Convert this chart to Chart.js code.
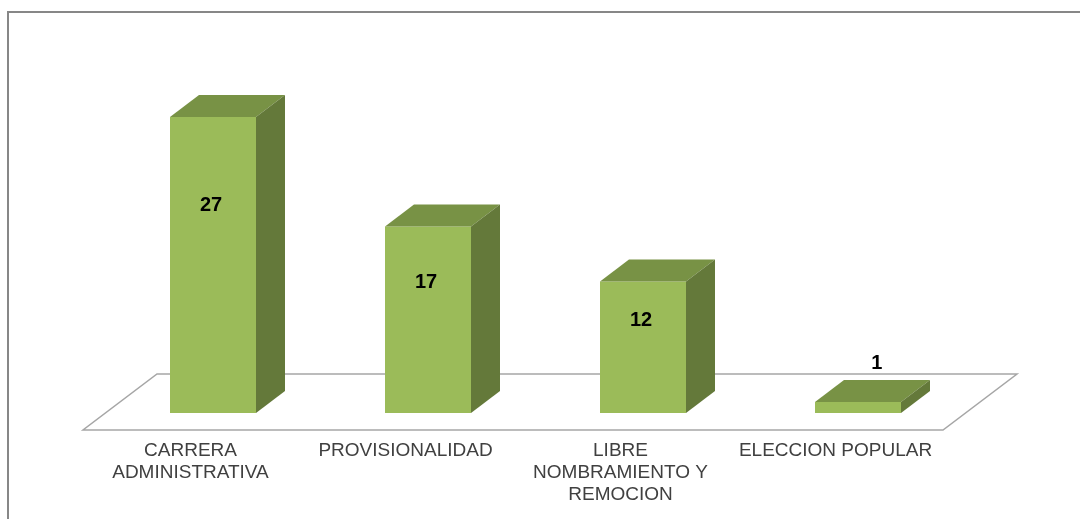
<!DOCTYPE html>
<html>
<head>
<meta charset="utf-8">
<script src="https://cdn.jsdelivr.net/npm/chart.js@4/dist/chart.umd.min.js"></script>
<style>
    body { margin: 0; background: #ffffff; }
</style>
</head>
<body>
<canvas id="myChart" width="1080" height="519"></canvas>
<script>
// Datos del gráfico
const categories = [
    ['CARRERA', 'ADMINISTRATIVA'],
    'PROVISIONALIDAD',
    ['LIBRE', 'NOMBRAMIENTO Y', 'REMOCION'],
    'ELECCION POPULAR'
];
const values = [27, 17, 12, 1];

// Colores de las caras 3D
const frontColor = '#9BBB59';
const topColor = '#789245';
const sideColor = '#64793A';

// Profundidad de las barras y del piso (px)
const depthX = 29, depthY = -22;

// Marco del gráfico (solo arriba e izquierda visibles)
const framePlugin = {
    id: 'frame',
    beforeDraw(chart) {
        const ctx = chart.ctx;
        ctx.save();
        ctx.fillStyle = '#ffffff';
        ctx.fillRect(0, 0, chart.width, chart.height);
        ctx.strokeStyle = '#878787';
        ctx.lineWidth = 2;
        ctx.beginPath();
        ctx.moveTo(8, chart.height + 2);
        ctx.lineTo(8, 12);
        ctx.lineTo(chart.width + 2, 12);
        ctx.stroke();
        ctx.restore();
    }
};

// Piso en perspectiva
const floorPlugin = {
    id: 'floor',
    beforeDatasetsDraw(chart) {
        const ctx = chart.ctx;
        const area = chart.chartArea;
        const y0 = chart.scales.y.getPixelForValue(0);
        ctx.save();
        ctx.strokeStyle = '#A6A6A6';
        ctx.lineWidth = 1.5;
        ctx.beginPath();
        ctx.moveTo(area.left - 22.5, y0 + 17);
        ctx.lineTo(area.right - 22.5, y0 + 17);
        ctx.lineTo(area.right + 51.5, y0 - 39);
        ctx.lineTo(area.left + 51.5, y0 - 39);
        ctx.closePath();
        ctx.stroke();
        ctx.restore();
    }
};

// Caras superior y lateral de cada barra + etiquetas
const bar3dPlugin = {
    id: 'bar3d',
    afterDatasetsDraw(chart) {
        const ctx = chart.ctx;
        const meta = chart.getDatasetMeta(0);
        ctx.save();
        meta.data.forEach((bar, i) => {
            const left = bar.x - bar.width / 2;
            const right = bar.x + bar.width / 2;
            const top = bar.y;
            const base = bar.base;

            // cara superior
            ctx.fillStyle = topColor;
            ctx.beginPath();
            ctx.moveTo(left, top);
            ctx.lineTo(right, top);
            ctx.lineTo(right + depthX, top + depthY);
            ctx.lineTo(left + depthX, top + depthY);
            ctx.closePath();
            ctx.fill();

            // cara lateral
            ctx.fillStyle = sideColor;
            ctx.beginPath();
            ctx.moveTo(right, top);
            ctx.lineTo(right + depthX, top + depthY);
            ctx.lineTo(right + depthX, base + depthY);
            ctx.lineTo(right, base);
            ctx.closePath();
            ctx.fill();

            // etiqueta de valor
            ctx.fillStyle = '#000000';
            ctx.font = 'bold 20px "Liberation Sans", Arial, sans-serif';
            ctx.textAlign = 'center';
            ctx.textBaseline = 'middle';
            const h = base - top;
            if (h > 40) {
                ctx.fillText(String(values[i]), bar.x - 2, top + h * 0.3);
            } else {
                ctx.fillText(String(values[i]), bar.x + depthX * 0.65, top + depthY - 17);
            }
        });
        ctx.restore();
    }
};

const ctx = document.getElementById('myChart').getContext('2d');
const chart = new Chart(ctx, {
    type: 'bar',
    data: {
        labels: categories,
        datasets: [{
            data: values,
            backgroundColor: frontColor,
            borderWidth: 0,
            barPercentage: 0.4,
            categoryPercentage: 1.0
        }]
    },
    options: {
        responsive: false,
        animation: false,
        layout: { padding: { left: 105.5, right: 114.5, top: 84, bottom: 0 } },
        plugins: {
            legend: { display: false },
            tooltip: { enabled: false }
        },
        scales: {
            x: {
                grid: { display: false, drawTicks: false },
                border: { display: false },
                ticks: {
                    color: '#404040',
                    font: { family: '"Liberation Sans", Arial, sans-serif', size: 19, lineHeight: 22 / 19 },
                    padding: 27,
                    labelOffset: -22.5,
                    maxRotation: 0,
                    autoSkip: false
                },
                afterFit(scale) {
                    scale.height = 106;
                    scale.paddingLeft = 0;
                    scale.paddingRight = 0;
                }
            },
            y: {
                display: false,
                min: 0,
                max: 30
            }
        }
    },
    plugins: [framePlugin, floorPlugin, bar3dPlugin]
});
</script>
</body>
</html>
